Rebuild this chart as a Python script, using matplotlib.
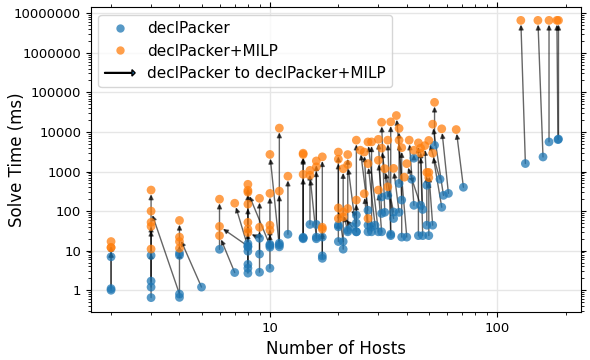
import numpy as np
import matplotlib
matplotlib.use("Agg")
import matplotlib.pyplot as plt
import matplotlib.patches as mpatches
from matplotlib.legend_handler import HandlerPatch
from matplotlib.lines import Line2D
from matplotlib.ticker import FuncFormatter, LogLocator, NullFormatter

# each entry: hosts / solve time for declPacker, then hosts / solve time for declPacker+MILP
base_hosts = [2, 2, 2, 3, 3, 3, 3, 4, 4, 4, 4, 5,
              6, 7, 8, 8, 8, 8, 8, 8, 8, 9, 10, 9, 9,
              11, 10, 10, 10, 11, 11, 12, 14, 14, 14, 15, 16, 16, 16, 17, 17, 17,
              20, 20, 21, 20, 21, 22, 24, 22, 24, 23, 24, 24,
              27, 27, 28, 30, 29, 27, 28, 31, 33, 34, 37, 31, 35, 31, 35, 32, 34, 40,
              38, 43, 43, 46, 37, 45, 47, 47, 49, 49, 42, 38,
              53, 58, 56, 61, 71, 57, 52, 50,
              133, 159, 169, 185, 186]
base_time = [1.0, 1.1, 7.0, 0.65, 1.2, 1.7, 7.6, 0.8, 0.66, 7.6, 8.7, 1.2,
             10.8, 2.8, 13, 12.4, 2.7, 3.6, 4.5, 9.7, 15, 20.6, 13.5, 2.85, 8.2,
             12.5, 3.6, 14.5, 12.2, 15.4, 14, 26, 21.8, 20, 21, 46, 22, 46, 20, 7.4, 6.4, 22,
             17, 44, 10.9, 40, 17, 33, 30, 30, 79, 40, 50, 30,
             105, 44, 30, 30, 44, 30, 40, 87, 250, 24, 500, 228, 95, 30, 65, 93, 26, 22,
             190, 140, 2170, 140, 93, 24, 24, 110, 44, 450, 640, 22,
             4600, 250, 640, 280, 400, 125, 44, 24,
             1590, 2330, 5600, 6400, 6600]
milp_hosts = [2, 2, 2, 3, 3, 3, 3, 3, 4, 4, 4, 4,
              6, 6, 6, 7, 8, 8, 8, 8, 8, 8, 8, 9, 9,
              10, 10, 10, 10, 11, 11, 12, 14, 14, 14, 15, 15, 16, 16, 17, 17, 17,
              20, 20, 21, 20, 20, 22, 22, 21, 22, 21, 24, 24,
              25, 26, 28, 27, 27, 26, 27, 30, 31, 33, 37, 30, 32, 30, 33, 31, 34, 36,
              37, 41, 43, 40, 35, 45, 46, 46, 49, 48, 39, 38,
              53, 52, 50, 57, 66, 52, 50, 50,
              127, 151, 169, 183, 186]
milp_time = [12, 17, 12, 340, 41, 52, 11, 100, 58, 17, 11.5, 22,
             200, 24, 41, 158, 475, 335, 150, 52, 35, 29, 300, 210, 39,
             2700, 280, 44, 33, 12500, 320, 760, 2900, 2700, 850, 1070, 800, 1850, 1310, 2350, 39, 35,
             3100, 2050, 1180, 65, 120, 2680, 1500, 95, 116, 71, 6200, 190,
             3450, 3100, 5600, 5600, 1580, 275, 65, 6500, 3900, 6200, 12300, 1930, 1180, 340, 410, 17600, 18000, 26000,
             6200, 6200, 3450, 1580, 1200, 5300, 3900, 2900, 950, 4500, 720, 4000,
             56000, 15700, 6100, 12000, 11500, 2900, 950, 700,
             6.6e6, 6.6e6, 6.6e6, 6.6e6, 6.6e6]

BLUE = "#1f77b4"
ORANGE = "#ff7f0e"


def make_arrow(legend, orig_handle, xdescent, ydescent, width, height, fontsize):
    return mpatches.FancyArrow(0, 0.5 * height, width, 0, width=0.6, head_width=0.6 * height,
                               head_length=0.3 * height, length_includes_head=True, color="black")


fig, ax = plt.subplots(figsize=(5.9, 3.6), dpi=100)
fig.subplots_adjust(left=0.154, right=0.985, bottom=0.133, top=0.98)

for hb, tb, hm, tm in zip(base_hosts, base_time, milp_hosts, milp_time):
    ax.annotate("", xy=(hm, tm), xytext=(hb, tb),
                arrowprops=dict(arrowstyle="-|>", color="black", alpha=0.6, lw=1.0,
                                mutation_scale=7, shrinkA=0, shrinkB=3),
                zorder=1)

ax.scatter(base_hosts, base_time, s=40, color=BLUE, alpha=0.75, edgecolors="none", zorder=2)
ax.scatter(milp_hosts, milp_time, s=40, color=ORANGE, alpha=0.75, edgecolors="none", zorder=3)

ax.set_xscale("log")
ax.set_yscale("log")
ax.set_xlim(1.63, 234)
ax.set_ylim(0.28, 1.42e7)

fmt = FuncFormatter(lambda v, _: f"{v:.0f}" if v >= 1 else f"{v:g}")
ax.xaxis.set_major_formatter(fmt)
ax.yaxis.set_major_formatter(fmt)
ax.xaxis.set_minor_formatter(NullFormatter())
ax.yaxis.set_minor_formatter(NullFormatter())
ax.yaxis.set_major_locator(LogLocator(base=10, numticks=15))
ax.yaxis.set_minor_locator(LogLocator(base=10, subs=np.arange(2, 10), numticks=15))
ax.tick_params(which="both", direction="out", top=True, right=True, labelsize=9.5)
ax.grid(True, which="major", color="#e6e6e6", linewidth=1.0, zorder=0)
ax.set_axisbelow(True)

ax.set_xlabel("Number of Hosts", fontsize=12)
ax.set_ylabel("Solve Time (ms)", fontsize=12)
# label sits below the widest tick label, as in the original
ax.yaxis.set_label_coords(-0.132, 0.5)

handles = [
    Line2D([], [], marker="o", linestyle="none", color=BLUE, alpha=0.75, markersize=6, markeredgewidth=0),
    Line2D([], [], marker="o", linestyle="none", color=ORANGE, alpha=0.75, markersize=6, markeredgewidth=0),
    mpatches.FancyArrow(0, 0, 1, 0),
]
labels = ["declPacker", "declPacker+MILP", "declPacker to declPacker+MILP"]
ax.legend(handles, labels, loc="upper left", fontsize=11,
          handler_map={mpatches.FancyArrow: HandlerPatch(patch_func=make_arrow)})

plt.savefig("out.png", dpi=100)
